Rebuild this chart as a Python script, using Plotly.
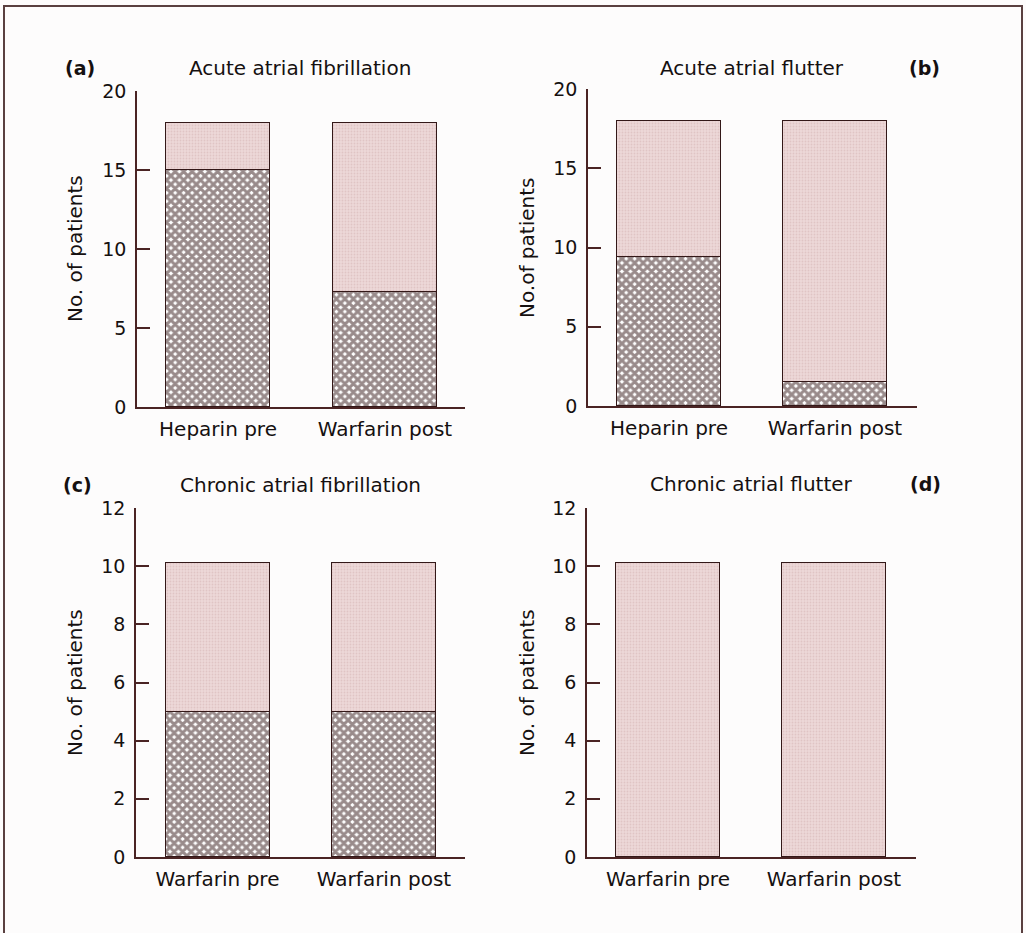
import plotly.graph_objects as go

W, H = 1026, 933

# ---- data ----
titles = ["Acute atrial fibrillation", "Acute atrial flutter",
          "Chronic atrial fibrillation", "Chronic atrial flutter"]
panel_labels = ["(a)", "(b)", "(c)", "(d)"]
ytitles = ["No. of patients", "No.of patients", "No. of patients", "No. of patients"]
cats_acute = ["Heparin pre", "Warfarin post"]
cats_chronic = ["Warfarin pre", "Warfarin post"]
categories = [cats_acute, cats_acute, cats_chronic, cats_chronic]
totals_a = [18, 18]
lower_a = [15, 7.3]
totals_b = [18, 18]
lower_b = [9.4, 1.5]
totals_c = [10.1, 10.1]
lower_c = [5, 5]
totals_d = [10.1, 10.1]
lower_d = [0, 0]
totals = [totals_a, totals_b, totals_c, totals_d]
lowers = [lower_a, lower_b, lower_c, lower_d]
ymax = [20, 20, 12, 12]
ydtick = [5, 5, 2, 2]

# ---- layout geometry (pixels) ----
geo = [
    dict(xl=137, xr=465, c1=218, c2=385, y0=407, y1=91),
    dict(xl=588, xr=917, c1=669, c2=835, y0=406, y1=89),
    dict(xl=136, xr=465, c1=217.5, c2=384, y0=857, y1=508),
    dict(xl=587, xr=916, c1=668, c2=834, y0=857, y1=508),
]
bar_px = 104

title_pos = [(300, 68), (752, 68), (300, 485), (751, 484)]
label_pos = [(80, 68), (924, 68), (77, 485), (925, 484)]
ytitle_pos = [(75, 249), (527, 248), (75, 683), (527, 683)]

FONT = "DejaVu Sans"
AX = "#4a2424"
TXT = "#151010"
HATCH_FG = "#331818"
PINK = "#ecd8d8"

def px(x):
    return x / W

def py(y):
    return 1 - y / H

fig = go.Figure()
layout = {}
annotations = []
for i in range(4):
    g = geo[i]
    n = "" if i == 0 else str(i + 1)
    xa, ya = "x" + n, "y" + n
    sp = g["c2"] - g["c1"]
    wid = bar_px / sp
    lo = lowers[i]
    up = [t - l for t, l in zip(totals[i], lo)]
    xs = [0, 1]
    fig.add_trace(go.Bar(
        x=xs, y=lo, width=wid, xaxis=xa, yaxis=ya, showlegend=False,
        marker=dict(color="white", line=dict(color=HATCH_FG, width=1),
                    pattern=dict(shape="x", fgcolor=HATCH_FG, bgcolor="white",
                                 size=6, solidity=0.75)),
    ))
    fig.add_trace(go.Bar(
        x=xs, y=up, width=wid, xaxis=xa, yaxis=ya, showlegend=False,
        marker=dict(color=PINK, line=dict(color=HATCH_FG, width=1),
                    pattern=dict(shape=".", fgcolor="#d4b0b0", bgcolor=PINK,
                                 size=3, solidity=0.3)),
    ))
    xl = (g["xl"] - g["c1"]) / sp
    xr = 1 + (g["xr"] - g["c2"]) / sp
    layout["xaxis" + n] = dict(
        domain=[px(g["xl"]), px(g["xr"])], range=[xl, xr], anchor=ya,
        tickmode="array", tickvals=xs, ticktext=categories[i],
        showline=True, linecolor=AX, linewidth=1.5, ticks="",
        showgrid=False, zeroline=False, automargin=False, ticklabelstandoff=3,
        tickfont=dict(family=FONT, size=20, color=TXT),
    )
    layout["yaxis" + n] = dict(
        domain=[py(g["y0"]), py(g["y1"])], range=[0, ymax[i]], anchor=xa,
        dtick=ydtick[i], tick0=0, showline=True, linecolor=AX, linewidth=1.5,
        ticks="inside", ticklen=13, tickcolor=AX, tickwidth=1.5,
        showgrid=False, zeroline=False, ticklabelstandoff=5, automargin=False,
        tickfont=dict(family=FONT, size=19, color=TXT),
    )
    annotations.append(dict(text=titles[i], x=px(title_pos[i][0]), y=py(title_pos[i][1]),
                            xref="paper", yref="paper", showarrow=False,
                            xanchor="center", yanchor="middle",
                            font=dict(family=FONT, size=20, color=TXT)))
    annotations.append(dict(text="<b>" + panel_labels[i] + "</b>", x=px(label_pos[i][0]),
                            y=py(label_pos[i][1]), xref="paper", yref="paper",
                            showarrow=False, xanchor="center", yanchor="middle",
                            font=dict(family=FONT, size=19, color=TXT)))
    annotations.append(dict(text=ytitles[i], x=px(ytitle_pos[i][0]), y=py(ytitle_pos[i][1]),
                            xref="paper", yref="paper", showarrow=False, textangle=-90,
                            xanchor="center", yanchor="middle",
                            font=dict(family=FONT, size=20, color=TXT)))

fig.update_layout(
    **layout,
    annotations=annotations,
    barmode="stack",
    bargap=0,
    autosize=False,
    width=W, height=H,
    margin=dict(l=0, r=0, t=0, b=0, pad=0, autoexpand=False),
    paper_bgcolor="#fdfcfc",
    plot_bgcolor="rgba(0,0,0,0)",
    shapes=[dict(type="rect", xref="paper", yref="paper",
                 x0=px(4), x1=px(1022), y0=py(960), y1=py(6),
                 line=dict(color="#5a4040", width=2), fillcolor="rgba(0,0,0,0)",
                 layer="below")],
)

fig.write_html("out.html", config={"displayModeBar": False},
               post_script="document.body.style.margin='0';document.body.style.overflow='hidden';")
